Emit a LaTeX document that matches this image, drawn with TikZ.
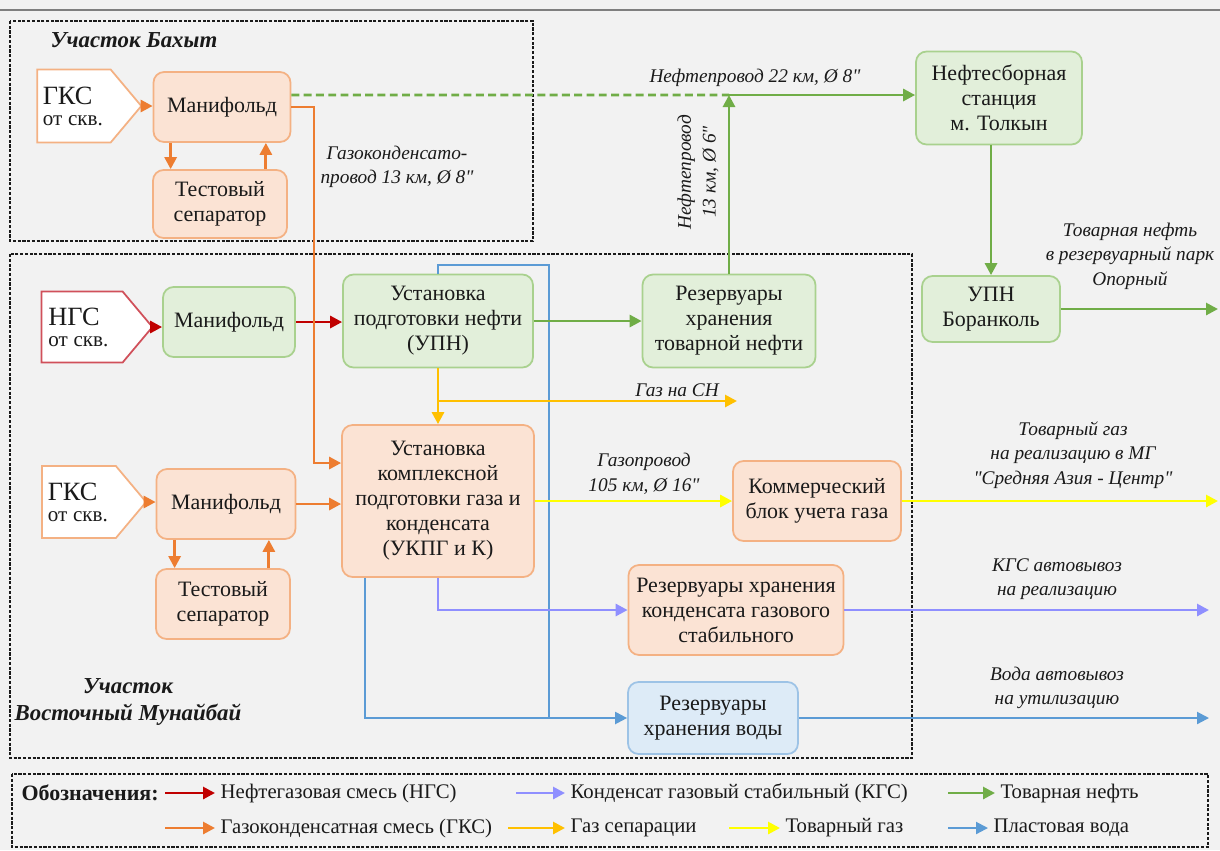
\documentclass[tikz,border=0pt]{standalone}
\usepackage{fontspec}
\setmainfont{Liberation Serif}[Ligatures=TeXOff]
\usepackage{tikz}
\usetikzlibrary{positioning, arrows.meta, shapes.symbols, calc}
\definecolor{canvas}{HTML}{F2F2F2}
\definecolor{rule}{HTML}{7F7F7F}
\definecolor{ink}{HTML}{1A1A1A}
\definecolor{gksline}{HTML}{ED7D31}
\definecolor{gksdraw}{HTML}{F4B183}
\definecolor{gksfill}{HTML}{FBE3D4}
\definecolor{oilline}{HTML}{70AD47}
\definecolor{oildraw}{HTML}{A9D18E}
\definecolor{oilfill}{HTML}{E2EFDA}
\definecolor{ngsline}{HTML}{C00000}
\definecolor{ngsdraw}{HTML}{D0505A}
\definecolor{kgsline}{HTML}{8F8FFF}
\definecolor{sepline}{HTML}{FFC000}
\definecolor{gasline}{HTML}{FFFF00}
\definecolor{watline}{HTML}{5B9BD5}
\definecolor{watdraw}{HTML}{9DC3E6}
\definecolor{watfill}{HTML}{DDEBF7}
\newcommand{\inch}{"}
\tikzset{
  unit/.style    = {rectangle, rounded corners=6pt, line width=1pt, align=center,
                    text=ink, inner sep=2pt, font=\fontsize{12.5}{14.2}\selectfont},
  gksbox/.style  = {unit, draw=gksdraw, fill=gksfill},
  oilbox/.style  = {unit, draw=oildraw, fill=oilfill},
  watbox/.style  = {unit, draw=watdraw, fill=watfill},
  well/.style    = {signal, signal to=east, signal pointer angle=100, draw=#1,
                    line width=1pt, fill=white, align=left, text=ink, inner sep=3pt},
  flow/.style    = {line width=1.6pt, -{Triangle[length=2.4mm,width=2.4mm]}},
  ngs/.style     = {flow, draw=ngsline},
  gks/.style     = {flow, draw=gksline},
  toil/.style    = {flow, draw=oilline},
  gsep/.style    = {flow, draw=sepline},
  tgas/.style    = {flow, draw=gasline},
  kgs/.style     = {flow, draw=kgsline},
  water/.style   = {flow, draw=watline, line width=1.2pt},
  pipe/.style    = {font=\fontsize{11}{14}\selectfont\itshape, align=center, text=ink, inner sep=1pt},
  zone/.style    = {draw=ink, line width=0.8pt, dash pattern=on 1.8pt off 0.9pt},
  zonename/.style= {font=\fontsize{13}{15}\selectfont\bfseries\itshape, align=center, text=ink},
  legtext/.style = {anchor=west, font=\fontsize{11.8}{14}\selectfont, text=ink, inner sep=3pt},
}

\begin{document}
\begin{tikzpicture}[x=0.02cm, y=-0.02cm]
  \useasboundingbox (0,0) rectangle (1220,850);
  \fill[canvas] (0,0) rectangle (1220,850);
  \draw[rule, line width=1.5pt] (0,10) -- (1220,10);

  % zones
  \draw[zone] (10,21) rectangle (533,241);
  \draw[zone] (10,254) rectangle (912,758);
  \draw[zone] (12,774) rectangle (1208,847);
  \node[zonename] (zbakhyt) at (134,40) {Участок Бахыт};
  \node[zonename] (zmunai) at (128,702) {Участок\\Восточный Мунайбай};

  % Bakhyt
  \node[well=gksdraw, minimum width=2.08cm, minimum height=1.46cm, text width=1.25cm] (gks1) at (74,106)
       {{\fontsize{15}{17}\selectfont ГКС}\\{\fontsize{12}{13}\selectfont от скв.}};
  \node[gksbox, minimum width=2.74cm, minimum height=1.40cm] (man1) at (222,107) {Манифольд};
  \node[gksbox, minimum width=2.68cm, minimum height=1.36cm] (sep1) at (220,204) {Тестовый\\сепаратор};

  % Munaibai, oil
  \node[well=ngsdraw, minimum width=2.22cm, minimum height=1.42cm, text width=1.35cm] (ngs) at (82,327)
       {{\fontsize{15}{17}\selectfont НГС}\\{\fontsize{12}{13}\selectfont от скв.}};
  \node[oilbox, minimum width=2.64cm, minimum height=1.40cm] (man2) at (229,322) {Манифольд};
  \node[oilbox, minimum width=3.80cm, minimum height=1.86cm] (upn) at (438,321) {Установка\\подготовки нефти\\(УПН)};
  \node[oilbox, minimum width=3.46cm, minimum height=1.86cm] (resoil) at (729,321) {Резервуары\\хранения\\товарной нефти};
  \node[oilbox, minimum width=3.32cm, minimum height=1.86cm] (tolkyn) at (999,98) {Нефтесборная\\станция\\м. Толкын};
  \node[oilbox, minimum width=2.76cm, minimum height=1.32cm] (borank) at (991,309) {УПН\\Боранколь};

  % Munaibai, gas
  \node[well=gksdraw, minimum width=2.08cm, minimum height=1.44cm, text width=1.25cm] (gks3) at (79,502)
       {{\fontsize{15}{17}\selectfont ГКС}\\{\fontsize{12}{13}\selectfont от скв.}};
  \node[gksbox, minimum width=2.78cm, minimum height=1.40cm] (man3) at (226,504) {Манифольд};
  \node[gksbox, minimum width=2.68cm, minimum height=1.40cm] (sep3) at (223,604) {Тестовый\\сепаратор};
  \node[gksbox, minimum width=3.84cm, minimum height=3.04cm] (ukpg) at (438,501)
       {Установка\\комплексной\\подготовки газа и\\конденсата\\(УКПГ и К)};
  \node[gksbox, minimum width=3.36cm, minimum height=1.60cm] (comm) at (817,501) {Коммерческий\\блок учета газа};
  \node[gksbox, minimum width=4.30cm, minimum height=1.80cm] (rescond) at (736,610)
       {Резервуары хранения\\конденсата газового\\стабильного};
  \node[watbox, minimum width=3.40cm, minimum height=1.44cm] (reswat) at (713,718) {Резервуары\\хранения воды};

  \coordinate (gkbend) at (314,463);
  \coordinate (oiljn) at (729,95);
  \coordinate (oilout) at (1218,309);
  \coordinate (gsout) at (737,401);
  \coordinate (gasout) at (1218,501);
  \coordinate (kgsout) at (1209,610);
  \coordinate (watout) at (1209,718);
  \coordinate (wtop) at (549,265);

  % water lines first
  \draw[water] ([xshift=0.48cm]ukpg.south west) |- (reswat.west);
  \draw[water, -] (upn.north) |- (wtop) -- (wtop |- reswat.west);
  \draw[water] (reswat.east) -- (watout);

  % gas condensate
  \draw[gks] (gks1.east) -- (man1.west |- gks1.east);
  \draw[gks] ([xshift=0.36cm]man1.south west) -- ([xshift=0.36cm]man1.south west |- sep1.north);
  \draw[gks] ([xshift=-0.44cm]sep1.north east) -- ([xshift=-0.44cm]sep1.north east |- man1.south);
  \draw[gks] (gks3.east) -- (man3.west |- gks3.east);
  \draw[gks] ([xshift=0.38cm]man3.south west) -- ([xshift=0.38cm]man3.south west |- sep3.north);
  \draw[gks] ([xshift=-0.44cm]sep3.north east) -- ([xshift=-0.44cm]sep3.north east |- man3.south);
  \draw[gks] (man3.east) -- (ukpg.west |- man3.east);

  % oil
  \draw[ngs] (ngs.east) -- (man2.west |- ngs.east);
  \draw[ngs] (man2.east) -- (upn.west |- man2.east);
  \draw[gks] (man1.east) -| (gkbend) -- (gkbend -| ukpg.west);
  \draw[toil] (upn.east) -- (resoil.west);
  \draw[toil, -, dash pattern=on 4.5pt off 2.5pt] ([yshift=0.24cm]man1.east) -- (oiljn);
  \draw[toil] (resoil.north) -- (oiljn);
  \draw[toil] (oiljn) -- (oiljn -| tolkyn.west);
  \draw[toil] (borank.north |- tolkyn.south) -- (borank.north);
  \draw[toil] (borank.east) -- (oilout);

  % gas, condensate
  \draw[gsep] (upn.south) -- (ukpg.north);
  \draw[gsep] (upn.south) |- (gsout);
  \draw[tgas] (ukpg.east |- comm.west) -- (comm.west);
  \draw[tgas] (comm.east) -- (gasout);
  \draw[kgs] (ukpg.south) |- (rescond.west);
  \draw[kgs] (rescond.east) -- (kgsout);

  % pipe labels
  \node[pipe] (pgk) at (397,167) {Газоконденсато-\\провод 13 км, Ø 8\inch};
  \node[pipe] (p22) at (755,78) {Нефтепровод 22 км, Ø 8\inch};
  \node[pipe, rotate=90] (p13) at (698,172) {Нефтепровод\\13 км, Ø 6\inch};
  \node[pipe] (psn) at (677,390) {Газ на СН};
  \node[pipe] (p105) at (644,474) {Газопровод\\105 км, Ø 16\inch};
  \node[pipe] (pgas) at (1073,455) {Товарный газ\\на реализацию в МГ\\\inch Средняя Азия - Центр\inch};
  \node[pipe] (poil) at (1130,256) {Товарная нефть\\в резервуарный парк\\Опорный};
  \node[pipe] (pkgs) at (1057,579) {КГС автовывоз\\на реализацию};
  \node[pipe] (pwat) at (1057,688) {Вода автовывоз\\на утилизацию};

  % legend
  \node[legtext, font=\fontsize{12.5}{14}\selectfont\bfseries] (ltitle) at (16,793) {Обозначения:};
  \node[legtext] (l1) at (215,793) {Нефтегазовая смесь (НГС)};
  \node[legtext] (l2) at (565,793) {Конденсат газовый стабильный (КГС)};
  \node[legtext] (l3) at (995,793) {Товарная нефть};
  \node[legtext] (l4) at (215,828) {Газоконденсатная смесь (ГКС)};
  \node[legtext] (l5) at (565,828) {Газ сепарации};
  \node[legtext] (l6) at (780,828) {Товарный газ};
  \node[legtext] (l7) at (988,828) {Пластовая вода};
  \coordinate (a1) at (165,793);
  \coordinate (a2) at (516,793);
  \coordinate (a3) at (948,793);
  \coordinate (a4) at (165,828);
  \coordinate (a5) at (508,828);
  \coordinate (a6) at (729,828);
  \coordinate (a7) at (948,828);
  \draw[ngs] (a1) -- (l1.west);
  \draw[kgs] (a2) -- (l2.west);
  \draw[toil] (a3) -- (l3.west);
  \draw[gks] (a4) -- (l4.west);
  \draw[gsep] (a5) -- (l5.west);
  \draw[tgas] (a6) -- (l6.west);
  \draw[water] (a7) -- (l7.west);

\end{tikzpicture}
\end{document}
